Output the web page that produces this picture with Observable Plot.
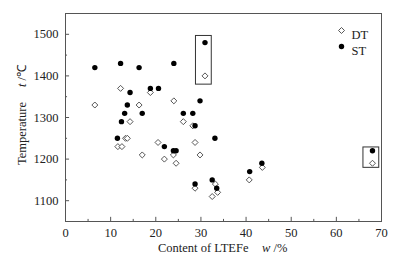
<!DOCTYPE html>
<html>
<head>
<meta charset="utf-8">
<script src="https://cdn.jsdelivr.net/npm/d3@7"></script>
<script src="https://cdn.jsdelivr.net/npm/@observablehq/plot@0.6"></script>
<style>
html,body{margin:0;padding:0;background:#fff;}
svg text{font-family:"Liberation Serif","Times New Roman",serif !important;}
</style>
</head>
<body>
<div id="chart"></div>
<script>
// DT series (hollow diamonds)
const dtX = [6.5, 12.2, 18.8, 16.3, 14.3, 11.6, 12.5, 13.3, 13.7, 17.0, 20.5, 21.9, 24.0, 23.9, 24.5, 26.1, 28.2, 28.7, 29.8, 28.7, 30.9, 33.2, 32.5, 33.7, 40.7, 43.6, 68.0];
const dtY = [1330, 1370, 1360, 1330, 1290, 1230, 1230, 1250, 1250, 1210, 1240, 1200, 1340, 1210, 1190, 1290, 1280, 1240, 1210, 1130, 1400, 1140, 1110, 1120, 1150, 1180, 1190];
// ST series (filled dots)
const stX = [6.5, 12.2, 16.3, 24.0, 14.3, 18.8, 20.6, 13.7, 13.1, 17.0, 12.4, 11.5, 21.9, 23.9, 24.5, 26.1, 28.2, 28.7, 29.8, 28.7, 30.9, 33.1, 32.5, 33.5, 40.8, 43.5, 68.0];
const stY = [1420, 1430, 1420, 1430, 1360, 1370, 1370, 1330, 1310, 1310, 1290, 1250, 1230, 1220, 1220, 1310, 1310, 1280, 1340, 1140, 1480, 1250, 1150, 1130, 1170, 1190, 1220];
// highlight boxes
const boxX1 = [28.9, 66.0];
const boxX2 = [32.4, 69.5];
const boxY1 = [1379, 1179];
const boxY2 = [1496, 1228];
// ticks
const xMajor = [0, 10, 20, 30, 40, 50, 60, 70];
const xMinor = [5, 15, 25, 35, 45, 55, 65];
const yMajor = [1100, 1200, 1300, 1400, 1500];
const yMinor = [1050, 1150, 1250, 1350, 1450, 1550];
const legendNames = ["DT", "ST"];

const dt = dtX.map((x, i) => ({x, y: dtY[i]}));
const st = stX.map((x, i) => ({x, y: stY[i]}));
const boxes = boxX1.map((x1, i) => ({x1, x2: boxX2[i], y1: boxY1[i], y2: boxY2[i]}));

const serif = "Liberation Serif";
const ink = "#333";
const plot = Plot.plot({
  width: 396,
  height: 265,
  marginLeft: 65,
  marginRight: 15,
  marginTop: 13,
  marginBottom: 44,
  style: {fontFamily: serif, fontSize: "12px", color: "#222", background: "#fff"},
  x: {domain: [0, 70]},
  y: {domain: [1050, 1550]},
  marks: [
    Plot.frame({stroke: "#555", strokeWidth: 1}),
    Plot.axisX(xMajor, {tickSize: 0, tickPadding: 7, label: null, fontSize: 12.5, fontFamily: serif, tickFormat: d3.format("d")}),
    Plot.axisY(yMajor, {tickSize: 0, tickPadding: 7, label: null, fontSize: 12.5, fontFamily: serif, tickFormat: d3.format("d")}),
    Plot.ruleX(xMajor, {x: d => d, y1: 1050, y2: 1060, stroke: "#555"}),
    Plot.ruleX(xMinor, {x: d => d, y1: 1050, y2: 1055, stroke: "#555"}),
    Plot.ruleY(yMajor, {y: d => d, x1: 0, x2: 0.9, stroke: "#555"}),
    Plot.ruleY(yMinor, {y: d => d, x1: 0, x2: 0.45, stroke: "#555"}),
    Plot.rect(boxes, {x1: "x1", x2: "x2", y1: "y1", y2: "y2", fill: "none", stroke: ink, strokeWidth: 1}),
    Plot.dot(dt, {x: "x", y: "y", symbol: "diamond2", r: 2.7, fill: "#fff", stroke: "#444", strokeWidth: 0.9}),
    Plot.dot(st, {x: "x", y: "y", symbol: "circle", r: 2.7, fill: "#000"}),
    // legend
    Plot.dot([legendNames[0]], {frameAnchor: "top-right", dx: -40, dy: 17, symbol: "diamond2", r: 2.7, fill: "#fff", stroke: "#444", strokeWidth: 0.9}),
    Plot.dot([legendNames[1]], {frameAnchor: "top-right", dx: -40, dy: 33, symbol: "circle", r: 2.7, fill: "#000"}),
    Plot.text([legendNames[0]], {text: d => d, frameAnchor: "top-right", dx: -30, dy: 17, textAnchor: "start", fontSize: 12.5, fontFamily: serif, fill: "#222"}),
    Plot.text([legendNames[1]], {text: d => d, frameAnchor: "top-right", dx: -30, dy: 33, textAnchor: "start", fontSize: 12.5, fontFamily: serif, fill: "#222"})
  ]
});
document.getElementById("chart").appendChild(plot);

// axis titles with italic symbols
const svg = d3.select(plot);
const xt = svg.append("text")
  .attr("x", 158).attr("y", 252)
  .attr("text-anchor", "start")
  .attr("fill", "#222")
  .style("font-size", "12.5px");
xt.append("tspan").text("Content of LTEFe");
xt.append("tspan").attr("x", 262).style("font-style", "italic").text("w");
xt.append("tspan").text(" /%");

const yt = svg.append("text")
  .attr("transform", "translate(26,165) rotate(-90)")
  .attr("text-anchor", "start")
  .attr("fill", "#222")
  .style("font-size", "12.5px");
yt.append("tspan").text("Temperature");
yt.append("tspan").attr("x", 78).style("font-style", "italic").text("t");
yt.append("tspan").text(" /℃");
</script>
</body>
</html>
